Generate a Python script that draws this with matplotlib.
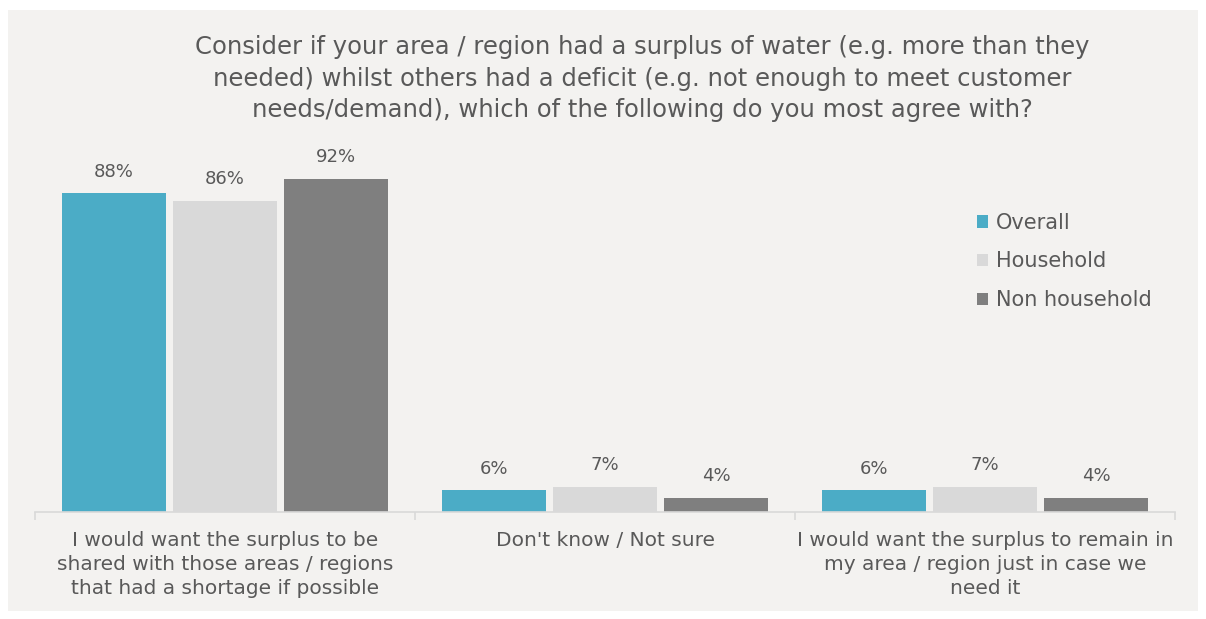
import matplotlib
matplotlib.use("Agg")
import matplotlib.pyplot as plt
import numpy as np

categories = ["I would want the surplus to be\nshared with those areas / regions\nthat had a shortage if possible",
              "Don't know / Not sure",
              "I would want the surplus to remain in\nmy area / region just in case we\nneed it"]
series_names = ["Overall", "Household", "Non household"]
overall = [88, 6, 6]
household = [86, 7, 7]
non_household = [92, 4, 4]
colors = ["#4BACC6", "#D9D9D9", "#7F7F7F"]
title = ("Consider if your area / region had a surplus of water (e.g. more than they\n"
         "needed) whilst others had a deficit (e.g. not enough to meet customer\n"
         "needs/demand), which of the following do you most agree with?")

plt.rcParams['font.family'] = ['DejaVu Sans']
W, H = 1206, 619
fig = plt.figure(figsize=(W/100, H/100), dpi=100)
fig.patch.set_facecolor("white")
bg = "#F3F2F0"
bgax = fig.add_axes([8/W, 1-611/H, (1198-8)/W, (611-10)/H])
bgax.set_facecolor(bg)
bgax.set_xticks([]); bgax.set_yticks([])
for s in bgax.spines.values():
    s.set_visible(False)
txt = "#595959"

ax = fig.add_axes([35/W, (H-512)/H, (1175-35)/W, 362/H])
ax.set_facecolor("none")
x = np.arange(len(categories))
bw = 0.276
off = 0.292
for i, (vals, c) in enumerate(zip([overall, household, non_household], colors)):
    pos = x + (i-1)*off
    ax.bar(pos, vals, width=bw, color=c, label=series_names[i], zorder=2)
    for p, v in zip(pos, vals):
        ax.text(p, v + 3.5, f"{v}%", ha="center", va="bottom", fontsize=13, color=txt)

ax.set_xlim(-0.5, 2.5)
ax.set_ylim(0, 100)
ax.set_yticks([])
for s in ["top", "right", "left"]:
    ax.spines[s].set_visible(False)
ax.spines["bottom"].set_color("#D9D9D9")
ax.spines["bottom"].set_linewidth(1.2)
ax.set_xticks([-0.5, 0.5, 1.5, 2.5])
ax.set_xticklabels([])
ax.tick_params(axis="x", length=6, color="#D9D9D9", width=1.2)
for xi, lab in zip(x, categories):
    ax.text(xi, -5.3, lab, ha="center", va="top", fontsize=14.5, color=txt,
            linespacing=1.33, transform=ax.transData)

fig.text(642/W, 1-35/H, title, ha="center", va="top", fontsize=17.5, color=txt, linespacing=1.4)

ax.legend(loc="upper left", bbox_to_anchor=(958/W, 1-194/H), bbox_transform=fig.transFigure,
          frameon=False, fontsize=15, labelcolor=txt, handlelength=0.55, handleheight=0.55,
          handletextpad=0.35, labelspacing=0.9)

fig.savefig("out.png", dpi=100, facecolor="white")
